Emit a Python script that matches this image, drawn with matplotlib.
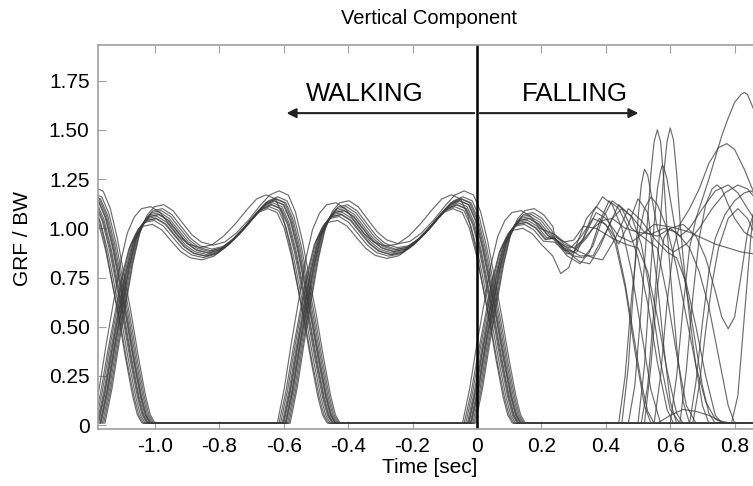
import numpy as np
import matplotlib
matplotlib.use("Agg")
import matplotlib.pyplot as plt

plt.rcParams['font.family'] = ['Liberation Sans', 'DejaVu Sans']

# typical stance-phase profile (normalised stance time -> GRF/BW)
tmpl_u = [0.00, 0.03, 0.06, 0.09, 0.12, 0.15, 0.18, 0.21, 0.25, 0.29, 0.33, 0.37, 0.41, 0.46,
          0.51, 0.56, 0.61, 0.66, 0.70, 0.74, 0.78, 0.81, 0.84, 0.87, 0.90, 0.93, 0.96, 0.98, 1.00]
tmpl_g = [0.01, 0.18, 0.40, 0.60, 0.80, 0.95, 1.03, 1.07, 1.08, 1.05, 0.99, 0.93, 0.89, 0.87,
          0.88, 0.92, 0.98, 1.05, 1.10, 1.12, 1.10, 1.02, 0.88, 0.70, 0.52, 0.32, 0.14, 0.05, 0.01]

# walking gait timing (sec)
foot_a_onsets = [-1.175, -0.025]
foot_b_onsets = [-1.75, -0.60]
stance_dur = 0.73

# per-trial values
trial_shift = [-0.015, -0.010, -0.005, 0.000, 0.004, 0.008, 0.012, 0.016, -0.020, 0.020, -0.002, 0.006]
peak1 = [1.02, 1.04, 1.05, 1.06, 1.07, 1.08, 1.09, 1.10, 1.11, 1.12, 1.05, 1.07]
peak2 = [1.10, 1.11, 1.12, 1.13, 1.14, 1.15, 1.15, 1.16, 1.17, 1.19, 1.12, 1.14]

# falling phase, foot A (end of the stance at t=0)
fall_a_t = [
    [0.235, 0.26, 0.285, 0.31, 0.34, 0.37, 0.40, 0.43, 0.46, 0.49, 0.51, 0.53, 0.55],
    [0.24, 0.27, 0.30, 0.33, 0.36, 0.39, 0.42, 0.45, 0.48, 0.51, 0.54, 0.57],
    [0.24, 0.27, 0.30, 0.33, 0.36, 0.39, 0.42, 0.45, 0.48, 0.52, 0.56, 0.59, 0.62, 0.65, 0.68],
    [0.24, 0.27, 0.29, 0.32, 0.36, 0.40, 0.43, 0.46, 0.49, 0.52, 0.54],
    [0.24, 0.28, 0.32, 0.35, 0.38, 0.42, 0.45, 0.48, 0.51, 0.54, 0.57, 0.60, 0.63],
    [0.24, 0.27, 0.30, 0.34, 0.38, 0.41, 0.44, 0.47, 0.50, 0.53, 0.56, 0.58, 0.60, 0.62],
    [0.24, 0.28, 0.32, 0.36, 0.40, 0.44, 0.48, 0.52, 0.56, 0.60, 0.64, 0.68, 0.71, 0.74, 0.76,
     0.78, 0.80, 0.82, 0.84, 0.86],
    [0.24, 0.27, 0.30, 0.33, 0.37, 0.42, 0.46, 0.50, 0.53, 0.56, 0.59, 0.62, 0.64],
    [0.24, 0.28, 0.32, 0.36, 0.39, 0.43, 0.47, 0.51, 0.55, 0.59, 0.62, 0.65, 0.68, 0.71, 0.74, 0.76],
    [0.24, 0.27, 0.30, 0.33, 0.36, 0.39, 0.42, 0.46, 0.50, 0.54, 0.58, 0.62, 0.66, 0.69, 0.72,
     0.75, 0.78, 0.80],
    [0.24, 0.28, 0.31, 0.34, 0.37, 0.40, 0.44, 0.48, 0.52, 0.55, 0.59, 0.62, 0.66, 0.70, 0.74,
     0.78, 0.82, 0.86],
    [0.24, 0.28, 0.32, 0.35, 0.38, 0.41, 0.44, 0.47, 0.50, 0.53, 0.56, 0.59, 0.61],
]
fall_a_g = [
    [0.86, 0.77, 0.80, 0.92, 1.05, 1.11, 1.07, 0.95, 0.72, 0.42, 0.22, 0.07, 0.01],
    [0.93, 0.89, 0.88, 0.95, 1.08, 1.16, 1.12, 1.00, 0.78, 0.48, 0.18, 0.01],
    [0.95, 0.90, 0.86, 0.85, 0.91, 1.05, 1.14, 1.10, 1.00, 0.95, 0.90, 0.66, 0.36, 0.10, 0.01],
    [0.95, 0.91, 0.90, 0.95, 1.05, 1.02, 0.92, 0.70, 0.38, 0.10, 0.01],
    [0.95, 0.88, 0.83, 0.82, 0.90, 1.05, 1.10, 1.06, 0.92, 0.65, 0.32, 0.08, 0.01],
    [0.95, 0.90, 0.88, 0.95, 1.05, 1.00, 0.92, 1.02, 1.15, 1.08, 0.72, 0.40, 0.12, 0.01],
    [0.95, 0.90, 0.86, 0.86, 0.98, 1.12, 1.06, 0.98, 0.96, 1.00, 1.02, 0.96, 0.85, 0.68, 0.55,
     0.49, 0.55, 0.76, 0.98, 1.08],
    [0.96, 0.93, 0.94, 1.01, 1.00, 0.95, 0.92, 0.90, 0.78, 0.55, 0.28, 0.06, 0.01],
    [0.97, 0.92, 0.88, 0.85, 0.84, 0.95, 1.10, 1.04, 0.95, 0.88, 0.85, 0.72, 0.50, 0.25, 0.05, 0.01],
    [0.97, 0.92, 0.90, 0.94, 1.00, 1.04, 1.05, 1.00, 0.98, 0.97, 1.00, 0.98, 0.90, 0.78, 0.60,
     0.35, 0.10, 0.01],
    [0.95, 0.87, 0.88, 0.98, 1.08, 1.05, 0.96, 0.93, 0.98, 1.02, 1.01, 1.00, 0.98, 0.95, 0.92,
     0.90, 0.88, 0.87],
    [0.94, 0.86, 0.82, 0.88, 1.03, 1.14, 1.10, 1.00, 0.85, 0.62, 0.32, 0.08, 0.01],
]

# falling phase, foot B (new contact after t=0.4)
fall_b_t = [
    [0.47, 0.49, 0.51, 0.52, 0.53, 0.54, 0.55, 0.56, 0.57, 0.58, 0.59, 0.60, 0.62, 0.64, 0.66],
    [0.51, 0.53, 0.55, 0.56, 0.57, 0.58, 0.59, 0.60, 0.61, 0.62, 0.63, 0.64, 0.66, 0.68, 0.70, 0.72],
    [0.45, 0.47, 0.49, 0.50, 0.51, 0.52, 0.53, 0.54, 0.56, 0.58, 0.61, 0.65, 0.69, 0.73, 0.77,
     0.81, 0.84, 0.86],
    [0.50, 0.52, 0.54, 0.55, 0.56, 0.57, 0.575, 0.58, 0.59, 0.60, 0.62, 0.64, 0.66, 0.68, 0.70,
     0.72, 0.74],
    [0.55, 0.57, 0.59, 0.61, 0.63, 0.66, 0.69, 0.72, 0.75, 0.776, 0.80, 0.83, 0.86],
    [0.60, 0.62, 0.64, 0.66, 0.68, 0.70, 0.72, 0.74, 0.76, 0.78, 0.80, 0.82, 0.83, 0.84, 0.86],
    [0.63, 0.65, 0.67, 0.69, 0.71, 0.73, 0.745, 0.76, 0.78, 0.80, 0.83, 0.86],
    [0.66, 0.68, 0.70, 0.72, 0.74, 0.77, 0.80, 0.83, 0.85, 0.86],
    [0.67, 0.69, 0.71, 0.73, 0.75, 0.78, 0.81, 0.84, 0.86],
    [0.56, 0.60, 0.64, 0.68, 0.72, 0.76, 0.79, 0.81, 0.83, 0.85, 0.86],
    [0.52, 0.54, 0.56, 0.58, 0.60, 0.63, 0.66, 0.70, 0.74, 0.78, 0.81, 0.84, 0.86],
    [0.44, 0.46, 0.48, 0.50, 0.52, 0.54, 0.56, 0.59, 0.62, 0.65, 0.68, 0.71, 0.74, 0.77],
]
fall_b_g = [
    [0.01, 0.20, 0.60, 0.82, 1.05, 1.28, 1.44, 1.50, 1.44, 1.25, 1.00, 0.78, 0.40, 0.12, 0.01],
    [0.01, 0.20, 0.60, 0.82, 1.05, 1.28, 1.44, 1.51, 1.45, 1.28, 1.05, 0.85, 0.55, 0.30, 0.10, 0.01],
    [0.01, 0.30, 0.80, 1.05, 1.22, 1.30, 1.27, 1.18, 1.00, 0.92, 0.88, 0.92, 1.00, 1.10, 1.18,
     1.22, 1.20, 1.16],
    [0.01, 0.30, 0.80, 1.02, 1.20, 1.29, 1.32, 1.31, 1.25, 1.15, 0.95, 0.78, 0.60, 0.40, 0.20,
     0.06, 0.01],
    [0.01, 0.25, 0.62, 0.90, 1.02, 1.10, 1.20, 1.33, 1.41, 1.43, 1.40, 1.30, 1.18],
    [0.01, 0.25, 0.60, 0.90, 1.05, 1.15, 1.25, 1.36, 1.47, 1.56, 1.64, 1.68, 1.69, 1.68, 1.60],
    [0.01, 0.28, 0.65, 0.95, 1.12, 1.20, 1.22, 1.20, 1.12, 1.05, 0.98, 0.95],
    [0.01, 0.22, 0.52, 0.78, 0.95, 1.07, 1.14, 1.18, 1.19, 1.18],
    [0.01, 0.20, 0.48, 0.72, 0.90, 1.05, 1.10, 1.05, 0.98],
    [0.01, 0.05, 0.08, 0.07, 0.05, 0.02, 0.01, 0.15, 0.55, 0.95, 1.10],
    [0.01, 0.30, 0.70, 0.95, 1.00, 0.96, 1.00, 1.10, 1.19, 1.22, 1.18, 1.10, 1.05],
    [0.01, 0.25, 0.65, 0.95, 1.10, 1.16, 1.12, 1.00, 0.80, 0.55, 0.30, 0.12, 0.03, 0.01],
]

x_ticks = [-1.0, -0.8, -0.6, -0.4, -0.2, 0.0, 0.2, 0.4, 0.6, 0.8]
x_labels = ["-1.0", "-0.8", "-0.6", "-0.4", "-0.2", "0", "0.2", "0.4", "0.6", "0.8"]
y_ticks = [0, 0.25, 0.5, 0.75, 1.0, 1.25, 1.5, 1.75]
y_labels = ["0", "0.25", "0.50", "0.75", "1.00", "1.25", "1.50", "1.75"]

u = np.array(tmpl_u)
g = np.array(tmpl_g)
late = np.clip((u - 0.35) / 0.2, 0, 1)


def stance(onset, p1, p2, umax=1.0):
    k = u <= umax
    gain = (1 - late) * p1 / 1.08 + late * p2 / 1.12
    return list(onset + u[k] * stance_dur), list(g[k] * gain[k])


XMAX = 0.86
fig = plt.figure(figsize=(7.53, 4.86), dpi=100)
ax = fig.add_axes([0.130, 0.117, 0.870, 0.790])

for i in range(len(trial_shift)):
    s = trial_shift[i]
    # foot A
    t1, g1 = stance(foot_a_onsets[0] + s, peak1[i], peak2[i])
    t2, g2 = stance(foot_a_onsets[1] + s, peak1[i] - 0.02, peak2[i], umax=0.33)
    ta = t1 + t2 + fall_a_t[i]
    ga = g1 + g2 + fall_a_g[i]
    if ga[-1] < 0.03:
        ta.append(XMAX)
        ga.append(0.01)
    ax.plot(ta, ga, color='#3c3c3c', lw=0.85, alpha=0.75)
    # foot B
    t0, g0 = stance(foot_b_onsets[0] + s, peak1[i], peak2[i] + 0.02)
    t1, g1 = stance(foot_b_onsets[1] + s, peak1[i] + 0.02, peak2[i])
    tb = t0 + t1 + fall_b_t[i]
    gb = g0 + g1 + fall_b_g[i]
    if gb[-1] < 0.03:
        tb.append(XMAX)
        gb.append(0.01)
    ax.plot(tb, gb, color='#3c3c3c', lw=0.85, alpha=0.75)

ax.axvline(0, color='black', lw=1.8)

ax.annotate('', xy=(-0.60, 1.585), xytext=(0, 1.585),
            arrowprops=dict(arrowstyle='-|>', color='#222222', lw=1.5, mutation_scale=14))
ax.annotate('', xy=(0.51, 1.585), xytext=(0, 1.585),
            arrowprops=dict(arrowstyle='-|>', color='#222222', lw=1.5, mutation_scale=14))
ax.text(-0.35, 1.68, 'WALKING', ha='center', va='center', fontsize=18.5)
ax.text(0.305, 1.68, 'FALLING', ha='center', va='center', fontsize=18.5)

ax.set_xlim(-1.177, 0.857)
ax.set_ylim(-0.02, 1.93)
ax.set_xticks(x_ticks)
ax.set_xticklabels(x_labels)
ax.set_yticks(y_ticks)
ax.set_yticklabels(y_labels)
ax.tick_params(direction='in', length=6, color='#a0a0a0', labelsize=15, top=True, pad=6)
for side in ['left', 'bottom', 'top']:
    ax.spines[side].set_color('#a0a0a0')
    ax.spines[side].set_linewidth(1.2)
ax.spines['right'].set_visible(False)

fig.text(429 / 753, 1 - 18 / 486, 'Vertical Component', ha='center', va='center', fontsize=14.5)
fig.text(430 / 753, 1 - 467 / 486, 'Time [sec]', ha='center', va='center', fontsize=15)
fig.text(23 / 753, 1 - 238 / 486, 'GRF / BW', ha='center', va='center', rotation=90, fontsize=15)

fig.savefig('out.png', dpi=100)
